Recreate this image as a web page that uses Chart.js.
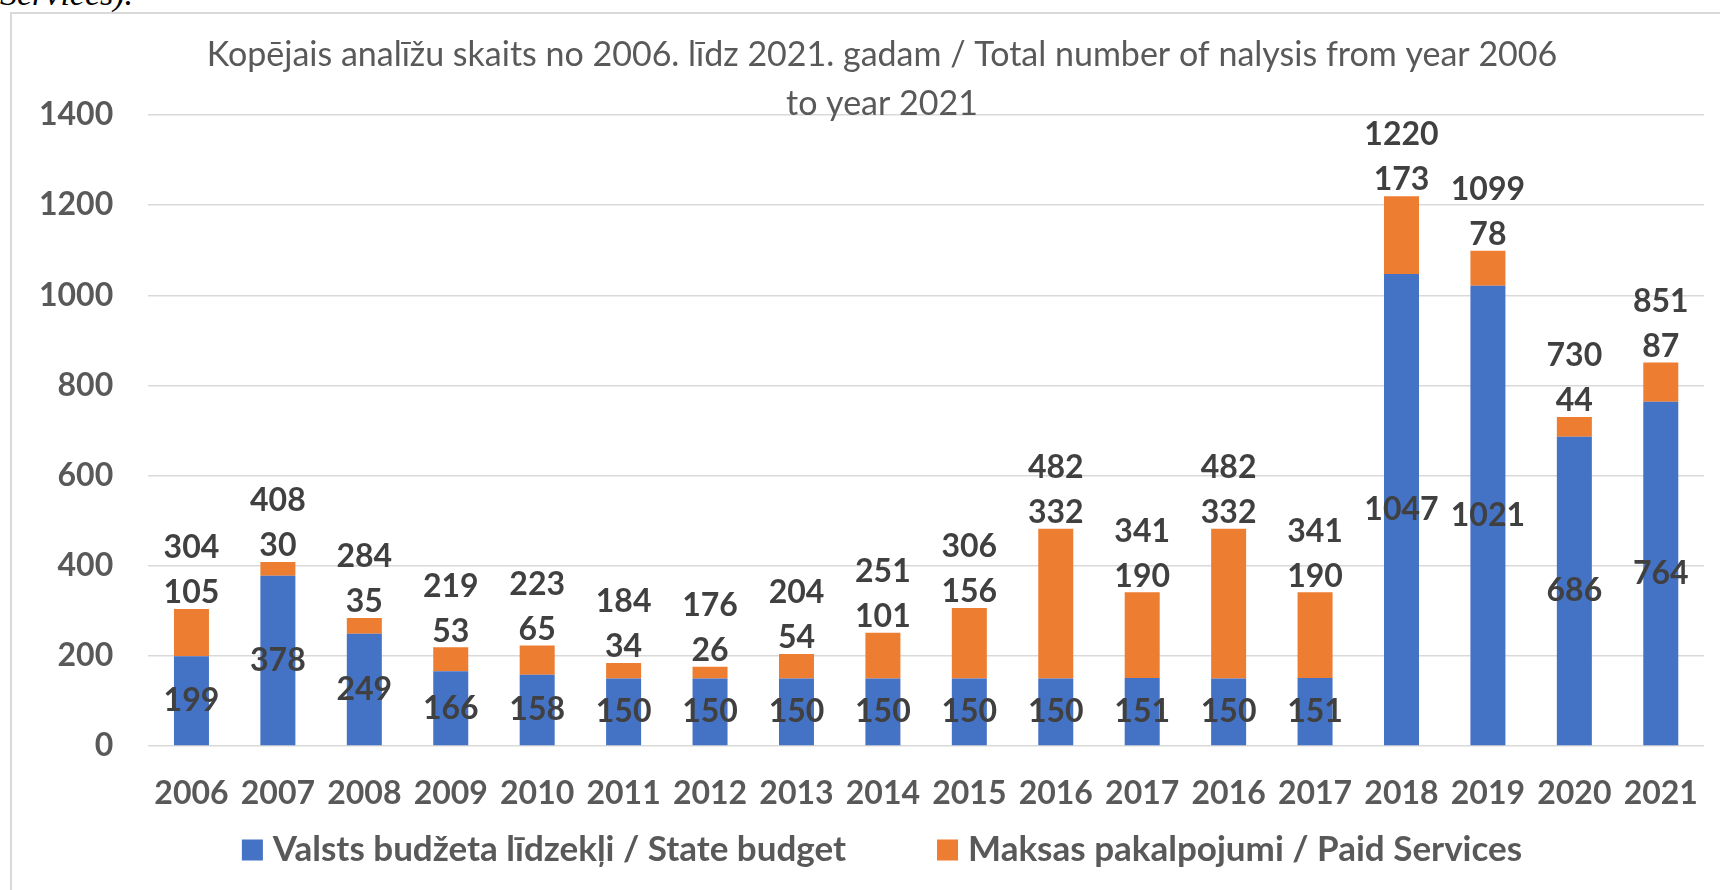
<!DOCTYPE html>
<html lang="lv">
<head>
<meta charset="utf-8">
<title>Kopējais analīžu skaits 2006–2021</title>
<script src="https://cdn.jsdelivr.net/npm/chart.js@4.4.1/dist/chart.umd.min.js"></script>
<style>
  html, body { margin: 0; padding: 0; background: #fff; overflow: hidden; }
  body { width: 1720px; height: 890px; position: relative; }
  .caption-tail {
    position: absolute; left: 0; top: -25px;
    font: italic 34px 'Liberation Serif', serif; color: #000;
  }
  .chart-frame {
    position: absolute; left: 10px; top: 12px;
    width: 1740px; height: 876px;
    border-left: 2px solid #d9d9d9; border-top: 2px solid #d9d9d9;
  }
</style>
</head>
<body>
<div class="caption-tail">Services).</div>
<div class="chart-frame"><canvas id="analysisChart" width="1740" height="876"></canvas></div>

<script>
// data
const years = ['2006', '2007', '2008', '2009', '2010', '2011', '2012', '2013', '2014',
  '2015', '2016', '2017', '2016', '2017', '2018', '2019', '2020', '2021'];
const stateBudget = [199, 378, 249, 166, 158, 150, 150, 150, 150, 150, 150, 151, 150, 151, 1047, 1021, 686, 764];
const paidServices = [105, 30, 35, 53, 65, 34, 26, 54, 101, 156, 332, 190, 332, 190, 173, 78, 44, 87];
const totals = [304, 408, 284, 219, 223, 184, 176, 204, 251, 306, 482, 341, 482, 341, 1220, 1099, 730, 851];
const yTicks = [0, 200, 400, 600, 800, 1000, 1200, 1400];

const titleLines = [
  'Kopējais analīžu skaits no 2006. līdz 2021. gadam / Total number of nalysis from year 2006',
  'to year 2021'
];
const seriesNames = ['Valsts budžeta līdzekļi / State budget', 'Maksas pakalpojumi / Paid Services'];

const BLUE = '#4472C4';
const ORANGE = '#ED7D31';
const AXIS_TEXT = '#595959';
const LABEL_TEXT = '#404040';
const FONT = 'Lato';
const FONT_SIZE = 32;

// value labels: state in the middle of its segment, paid and total above the stack
const valueLabels = {
  id: 'valueLabels',
  afterDatasetsDraw(chart) {
    const { ctx, scales: { y } } = chart;
    const stateBars = chart.getDatasetMeta(0).data;
    const paidBars = chart.getDatasetMeta(1).data;

    ctx.save();
    ctx.font = `bold ${FONT_SIZE}px ${FONT}`;
    ctx.fillStyle = LABEL_TEXT;
    ctx.textAlign = 'center';
    ctx.textBaseline = 'middle';
    years.forEach((_, i) => {
      const s = stateBars[i];
      const p = paidBars[i];
      ctx.fillText(String(stateBudget[i]), s.x, (s.y + s.base) / 2);
      ctx.fillText(String(paidServices[i]), p.x, p.y - 16);
      ctx.fillText(String(totals[i]), p.x, y.getPixelForValue(totals[i]) - 61);
    });
    ctx.restore();
  }
};

// title and legend are centred on the whole frame, like the Excel chart
const frameTexts = {
  id: 'frameTexts',
  afterDraw(chart) {
    const { ctx, width, chartArea } = chart;
    const cx = width / 2;

    ctx.save();
    ctx.fillStyle = AXIS_TEXT;
    ctx.textBaseline = 'middle';

    // title
    ctx.textAlign = 'center';
    ctx.font = `34px ${FONT}`;
    titleLines.forEach((line, i) => ctx.fillText(line, cx, 41 + i * 49));

    // legend
    const box = 21, gap = 10, itemGap = 91;
    ctx.font = `bold 35px ${FONT}`;
    const items = chart.data.datasets.map(ds => ({
      text: ds.label,
      color: ds.backgroundColor,
      w: box + gap + ctx.measureText(ds.label).width
    }));
    const total = items.reduce((sum, it) => sum + it.w, 0) + itemGap * (items.length - 1);
    const ly = chartArea.bottom + 104;
    let x = cx - total / 2;
    ctx.textAlign = 'left';
    items.forEach(it => {
      ctx.fillStyle = it.color;
      ctx.fillRect(x, ly - box / 2, box, box);
      ctx.fillStyle = AXIS_TEXT;
      ctx.fillText(it.text, x + box + gap, ly);
      x += it.w + itemGap;
    });
    ctx.restore();
  }
};

function buildChart() {
  const ctx = document.getElementById('analysisChart').getContext('2d');

  new Chart(ctx, {
    type: 'bar',
    data: {
      labels: years,
      datasets: [{
        label: seriesNames[0],
        data: stateBudget,
        backgroundColor: BLUE,
        borderWidth: 0,
      }, {
        label: seriesNames[1],
        data: paidServices,
        backgroundColor: ORANGE,
        borderWidth: 0,
      }]
    },
    options: {
      responsive: false,
      animation: false,
      categoryPercentage: 1,
      barPercentage: 0.405,
      layout: {
        padding: { top: 101, left: 27, right: 48, bottom: 77.6 }
      },
      plugins: {
        tooltip: { enabled: false },
        title: { display: false },
        legend: { display: false }
      },
      scales: {
        x: {
          stacked: true,
          grid: { display: false, drawTicks: false },
          border: { display: false },
          ticks: {
            color: AXIS_TEXT,
            padding: 28,
            autoSkip: false,
            maxRotation: 0,
            font: { family: FONT, size: FONT_SIZE, weight: 'bold' }
          },
          // tick padding is counted twice in the fitted size; keep it once
          afterFit: (scale) => { scale.height -= scale.options.ticks.padding; }
        },
        y: {
          stacked: true,
          min: 0,
          max: 1400,
          grid: { color: '#d9d9d9', lineWidth: 1.5, drawTicks: false },
          border: { display: false },
          ticks: {
            color: AXIS_TEXT,
            padding: 35,
            font: { family: FONT, size: FONT_SIZE, weight: 'bold' },
            callback: (value) => String(value)
          },
          afterBuildTicks: (scale) => { scale.ticks = yTicks.map(v => ({ value: v })); },
          afterFit: (scale) => { scale.width -= scale.options.ticks.padding; }
        }
      }
    },
    plugins: [valueLabels, frameTexts]
  });
}

Promise.all([
  document.fonts.load(`bold ${FONT_SIZE}px ${FONT}`),
  document.fonts.load(`${FONT_SIZE}px ${FONT}`)
]).catch(() => {}).then(buildChart);
</script>
</body>
</html>
